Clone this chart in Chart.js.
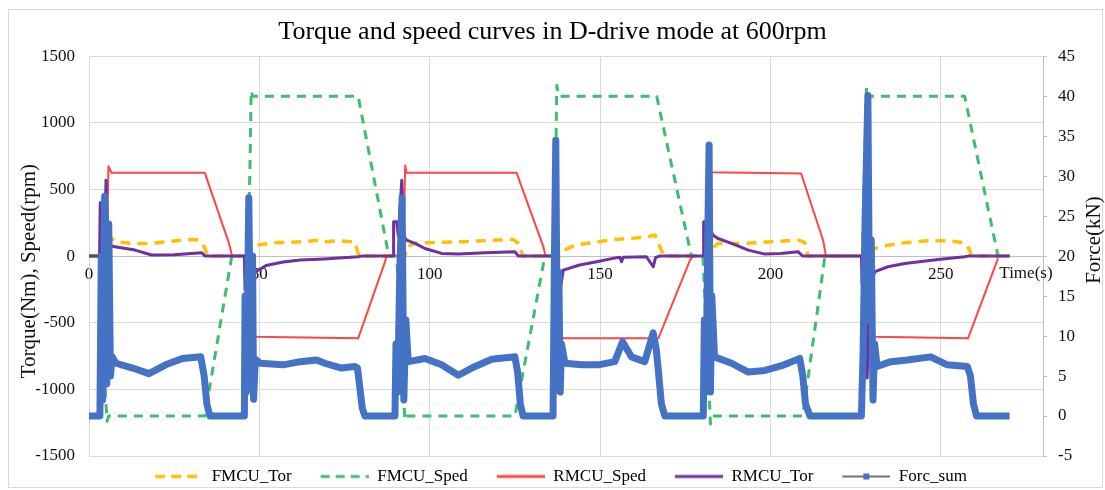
<!DOCTYPE html>
<html>
<head>
<meta charset="utf-8">
<script src="https://cdn.jsdelivr.net/npm/chart.js@4.4.0/dist/chart.umd.min.js"></script>
<style>
  html, body { margin: 0; padding: 0; background: #fff; }
  #wrap { width: 1105px; height: 490px; position: relative; }
</style>
</head>
<body>
<div id="wrap"><canvas id="chart"></canvas></div>
<script>
const SERIF = "'Liberation Serif', 'Times New Roman', serif";
const TITLE = "Torque and speed curves in D-drive mode at 600rpm";
const Y_TITLE = "Torque(Nm), Speed(rpm)";
const Y1_TITLE = "Force(kN)";
const X_TITLE = "Time(s)";

// time (s) / value pairs
const fmcuTorTime = [
  0, 5.6, 6.1, 7.9, 12.8, 17.6, 22.5, 27.4, 30.3, 32.3, 33.8, 34.8, 35.2,
  46.8, 47.3, 48.8, 54.6, 62.5, 67.4, 69.2, 73.1, 78, 79, 79.4,
  92.8, 93.2, 95.7, 98.6, 108.4, 120.1, 124.5, 126, 127.4,
  138.2, 139.7, 142.6, 149.4, 154.3, 159.2, 164.1, 166.1, 168, 169,
  182.2, 182.7, 183.6, 184.6, 192.4, 200.3, 208.1, 209.5, 210.2, 211,
  228.2, 228.7, 230.6, 234.5, 239.4, 246.3, 252.2, 257, 258.5, 259, 270.2,
];
const fmcuTorValue = [
  0, 0, 145, 107, 95, 95, 107, 120, 125, 120, 70, 7, 0,
  0, 45, 82, 100, 107, 120, 107, 115, 107, 20, 0,
  0, 70, 95, 100, 107, 120, 125, 95, 0,
  0, 45, 82, 108, 125, 133, 145, 158, 45, 0,
  0, 20, 70, 95, 95, 108, 120, 110, 95, 0,
  0, 20, 57, 82, 100, 115, 115, 100, 45, 0, 0,
];

const fmcuSpedTime = [
  0, 3.5, 4.5, 5.3, 5.8,
  34, 41.9, 46.5, 47.2, 47.6, 48,
  79, 88, 90.3, 92.7, 93.3,
  125, 133.8, 136.6, 137.3, 137.9,
  166.6, 176.8, 180.2, 182.4, 183,
  209.5, 216, 227, 228.2, 228.8,
  257, 266.8, 270.2,
];
const fmcuSpedValue = [
  0, 0, -900, -1240, -1200,
  -1200, 0, 0, 600, 1240, 1200,
  1200, 0, 0, -1230, -1200,
  -1200, 0, 0, 1280, 1200,
  1200, 0, 0, -1260, -1200,
  -1200, 0, 0, 1270, 1200,
  1200, 0, 0,
];

const rmcuSpedTime = [
  0, 5.2, 5.7, 6.6, 34, 41.1, 42,
  46.5, 47.5, 48.2, 79, 86.9, 87.3,
  92.2, 92.8, 93.2, 125.5, 133.3, 134,
  136.7, 138.5, 139.2, 167.1, 176.4, 177.3,
  181.7, 182.2, 182.6, 209, 215.5, 216.3,
  227.2, 229.5, 230.1, 258, 266.8,
];
const rmcuSpedValue = [
  0, 0, 675, 625, 625, 95, 0,
  0, -400, -605, -617, -42, 0,
  0, 680, 625, 625, 75, 0,
  0, -600, -617, -617, -30, 0,
  0, 683, 630, 620, 115, 0,
  0, -550, -605, -617, -17,
];

const rmcuTorTime = [
  0, 3.1, 3.3, 4.3, 4.6, 5.0, 5.6, 6.0, 6.4, 7.6, 13.5, 18.4, 25, 33.1, 34,
  45.6, 45.8, 46.6, 47, 47.6, 48.2, 50, 52, 57, 62, 69, 79, 80,
  89.3, 89.4, 90.3, 90.8, 91.8, 92.4, 93.2, 95.7, 98.6, 103.5, 108.4, 116.2, 125, 126,
  136.2, 136.5, 137, 137.6, 138.3, 139.2, 144, 149, 153.8, 155.8, 156.3, 156.8, 163.6, 165.6, 166.3, 167.5,
  180.3, 180.4, 181.3, 181.7, 182.2, 183.2, 184.6, 188.6, 193.5, 198.4, 203, 208.1, 209.5,
  226.7, 226.9, 227.8, 228.4, 229, 229.7, 230.7, 234.5, 239.4, 249.2, 257, 258, 270.2,
];
const rmcuTorValue = [
  0, 0, 400, 405, 150, 570, 100, 180, 75, 70, 45, 8, 10, 25, 0,
  0, -250, -150, -320, -200, -130, -100, -70, -45, -30, -22, -5, 0,
  0, 257, 257, 150, 570, 150, 120, 95, 57, 20, 15, 25, 33, 0,
  0, -500, -300, -755, -250, -105, -67, -42, -17, -8, -42, -8, -5, -80, -10, 0,
  0, 258, 258, 595, 200, 157, 132, 95, 45, 15, 20, 33, 0,
  0, -205, -205, -915, -300, -180, -117, -80, -55, -25, -5, 0, 0,
];

const forcSumTime = [
  0, 3.2, 3.6, 4.0, 4.6, 5.2, 5.8, 6.3, 6.8, 7.9, 12.8, 17.6, 22.5, 27.4, 32.8, 33.8, 34.6, 35.5,
  45.6, 45.8, 46.2, 46.9, 47.5, 48, 48.3, 48.8, 50.2, 57, 62, 66.8, 69.2, 74.1, 78, 78.8, 79.5, 80.2, 81,
  89.8, 90.1, 90.6, 91.2, 91.9, 92.4, 93, 93.7, 98.6, 103.5, 108.4, 113.3, 118.2, 125, 125.8, 126.6, 127.4,
  136.2, 136.6, 137, 137.4, 137.9, 138.3, 138.7, 139.7, 144.6, 149.5, 154.3, 156.6, 159.2, 163.1, 165.6, 166.5, 167.1, 168, 169,
  180.3, 180.6, 181.1, 181.6, 182, 182.4, 182.8, 183.6, 188.6, 193.5, 198.4, 203.3, 208.6, 209.5, 210.3, 211.6,
  226.7, 227.2, 227.8, 228.6, 229.1, 229.6, 230.1, 230.6, 231.3, 235.3, 240.2, 247, 251.9, 257.8, 258.7, 259.6, 260.5, 270.2,
];
const forcSumValue = [
  0, 0, 20, 2, 27.5, 4, 24, 5, 7.4, 6.6, 6.0, 5.3, 6.4, 7.2, 7.4, 5, 1.5, 0,
  0, 15, 3, 27.3, 5, 20, 2.1, 7.1, 6.6, 6.4, 6.8, 7, 6.6, 6, 6.2, 6, 3.5, 1, 0,
  0, 9, 3, 18, 27.3, 2, 12, 6.8, 7.2, 6.4, 5.1, 6.2, 7.1, 7.4, 5.5, 1.5, 0,
  0, 20, 34.5, 10, 18, 3, 9, 6.6, 6.4, 6.4, 6.8, 9.3, 7.4, 6.8, 10.4, 8.3, 5.7, 1.5, 0,
  0, 12, 3, 22, 33.9, 3, 15, 7.4, 6.6, 5.5, 5.7, 6.3, 7.2, 5, 1.5, 0,
  0, 8, 25, 40.1, 12, 22, 2, 9, 6.2, 6.8, 7, 7.4, 6.4, 6.2, 5, 1.5, 0, 0,
];

const LEGEND_LEAD = 17;
const LEGEND_LINE = 48;

function toPoints(times, values) {
  return times.map((t, i) => ({ x: t, y: values[i] }));
}

// small canvas used as the legend sample: blank lead-in, then the line
function legendIcon(color, width, dash, marker) {
  const c = document.createElement("canvas");
  c.width = LEGEND_LEAD + LEGEND_LINE;
  c.height = 12;
  const g = c.getContext("2d");
  g.strokeStyle = color;
  g.lineWidth = width;
  g.setLineDash(dash);
  g.beginPath();
  g.moveTo(LEGEND_LEAD, 6);
  g.lineTo(c.width, 6);
  g.stroke();
  if (marker) {
    g.fillStyle = marker;
    g.fillRect(LEGEND_LEAD + LEGEND_LINE / 2 - 3, 3, 6, 6);
  }
  return c;
}

const datasets = [
  {
    label: "FMCU_Tor",
    data: toPoints(fmcuTorTime, fmcuTorValue),
    yAxisID: "y",
    borderColor: "#FFC000",
    borderWidth: 3.5,
    borderDash: [10, 7],
    order: 5,
    icon: legendIcon("#FFC000", 3.5, [10, 6]),
  },
  {
    label: "FMCU_Sped",
    data: toPoints(fmcuSpedTime, fmcuSpedValue),
    yAxisID: "y",
    borderColor: "#3DBE6C",
    borderWidth: 3,
    borderDash: [9, 7],
    order: 4,
    icon: legendIcon("#3DBE6C", 3, [9, 6]),
  },
  {
    label: "RMCU_Sped",
    data: toPoints(rmcuSpedTime, rmcuSpedValue),
    yAxisID: "y",
    borderColor: "#FF4545",
    borderWidth: 2,
    order: 3,
    icon: legendIcon("#FF4545", 3, []),
  },
  {
    label: "RMCU_Tor",
    data: toPoints(rmcuTorTime, rmcuTorValue),
    yAxisID: "y",
    borderColor: "#7030A0",
    borderWidth: 3,
    order: 2,
    icon: legendIcon("#7030A0", 3, []),
  },
  {
    label: "Forc_sum",
    data: toPoints(forcSumTime, forcSumValue),
    yAxisID: "y1",
    borderColor: "#4472C4",
    borderWidth: 7,
    order: 1,
    icon: legendIcon("#404040", 1.5, [], "#4472C4"),
  },
];

const extrasPlugin = {
  id: "extras",
  beforeDraw(chart) {
    const { ctx } = chart;
    ctx.save();
    ctx.fillStyle = "#fff";
    ctx.fillRect(0, 0, chart.width, chart.height);
    ctx.strokeStyle = "#D9D9D9";
    ctx.lineWidth = 1;
    ctx.strokeRect(8.5, 9.5, 1094, 478);
    ctx.restore();
  },
  afterDraw(chart) {
    const { ctx, chartArea } = chart;
    const zeroY = chart.scales.y.getPixelForValue(0);
    ctx.save();
    ctx.fillStyle = "#111";
    ctx.textAlign = "center";
    ctx.textBaseline = "middle";
    ctx.font = "17px " + SERIF;
    ctx.fillText(X_TITLE, chart.scales.x.getPixelForValue(275), zeroY + 17);

    ctx.font = "21px " + SERIF;
    ctx.save();
    ctx.translate(29, (chartArea.top + chartArea.bottom) / 2 + 15);
    ctx.rotate(-Math.PI / 2);
    ctx.fillText(Y_TITLE, 0, 0);
    ctx.restore();

    ctx.save();
    ctx.translate(1094, (chartArea.top + chartArea.bottom) / 2 - 16);
    ctx.rotate(-Math.PI / 2);
    ctx.fillText(Y1_TITLE, 0, 0);
    ctx.restore();
    ctx.restore();
  },
};

const tickFont = { family: SERIF, size: 17 };
const plainTick = (v) => String(v);

new Chart(document.getElementById("chart"), {
  type: "line",
  data: { datasets },
  plugins: [extrasPlugin],
  options: {
    responsive: true,
    maintainAspectRatio: false,
    animation: false,
    layout: { padding: 0 },
    elements: {
      point: { radius: 0, hoverRadius: 0 },
      line: { tension: 0, fill: false, borderJoinStyle: "round" },
    },
    plugins: {
      title: {
        display: true,
        text: TITLE,
        color: "#000",
        font: { family: SERIF, size: 26, weight: "normal" },
        padding: { top: 17, bottom: 8 },
      },
      legend: {
        position: "bottom",
        maxHeight: 34,
        labels: {
          usePointStyle: true,
          pointStyleWidth: LEGEND_LEAD + LEGEND_LINE,
          padding: 12,
          color: "#000",
          font: { family: SERIF, size: 17 },
          generateLabels: (chart) =>
            chart.data.datasets.map((ds, i) => ({
              text: ds.label,
              pointStyle: ds.icon,
              fillStyle: "transparent",
              strokeStyle: "transparent",
              lineWidth: 0,
              fontColor: "#000",
              hidden: false,
              datasetIndex: i,
            })),
        },
      },
      tooltip: { enabled: false },
    },
    scales: {
      x: {
        type: "linear",
        min: 0,
        max: 280,
        position: { y: 0 },
        grid: { color: "#D9D9D9", drawTicks: false },
        border: { color: "#BFBFBF" },
        ticks: {
          stepSize: 50,
          includeBounds: false,
          maxRotation: 0,
          padding: 8,
          color: "#111",
          font: tickFont,
          callback: plainTick,
        },
      },
      y: {
        position: "left",
        min: -1500,
        max: 1500,
        grid: { color: "#D9D9D9", drawTicks: false },
        border: { color: "#D9D9D9" },
        ticks: { stepSize: 500, padding: 14, color: "#111", font: tickFont, callback: plainTick },
        afterFit: (scale) => { scale.width = 89; },
      },
      y1: {
        position: "right",
        min: -5,
        max: 45,
        grid: { drawOnChartArea: false, tickLength: 4, color: "#BFBFBF" },
        border: { color: "#BFBFBF" },
        ticks: { stepSize: 5, padding: 11, color: "#111", font: tickFont, callback: plainTick },
        afterFit: (scale) => { scale.width = 62; },
      },
    },
  },
});
</script>
</body>
</html>
